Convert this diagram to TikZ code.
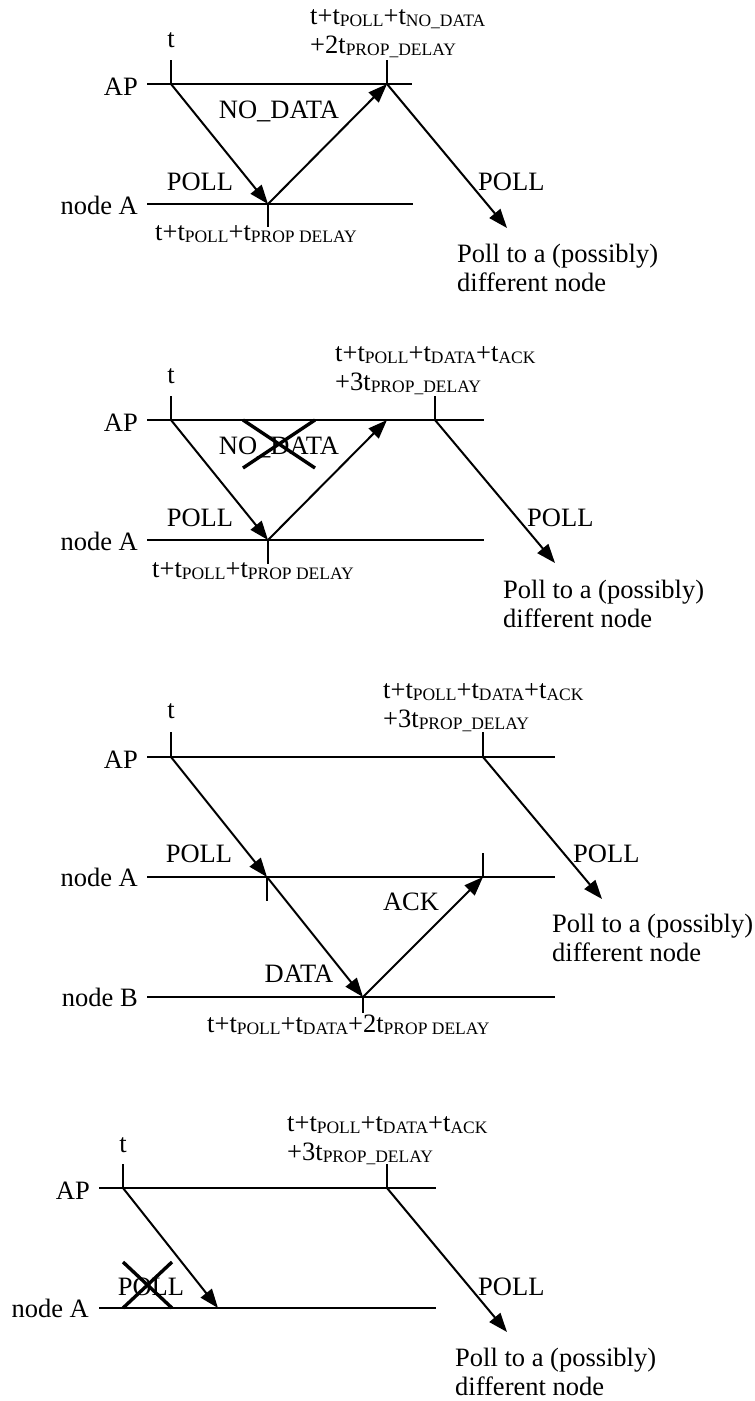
\documentclass[tikz,border=0pt]{standalone}
\usepackage{fontspec}
\setmainfont{Liberation Serif}
\usetikzlibrary{arrows.meta}
\newcommand{\tsub}[1]{\raisebox{-2pt}{\fontsize{17.5}{18}\selectfont #1}}

\begin{document}
\begin{tikzpicture}[
  x=1pt, y=-1pt,
  lane/.style={line width=2pt},
  msg/.style={line width=2pt, -{Triangle[length=19pt,width=14pt]}},
  tick/.style={line width=1.7pt},
  cross/.style={line width=3.4pt},
  lbl/.style={inner sep=0pt, font=\fontsize{26.5}{29}\selectfont},
  who/.style={lbl, anchor=base east},
  tag/.style={lbl, anchor=base},
  stamp/.style={lbl, anchor=base west, align=left}
]
\useasboundingbox (0,0) rectangle (755,1401);

% first case: NO_DATA answer
\coordinate (ap1s) at (147,84);  \coordinate (ap1e) at (412,84);
\coordinate (na1s) at (147,204); \coordinate (na1e) at (413,204);
\coordinate (t1) at (171,84);    \coordinate (t1top) at (171,60);
\coordinate (rx1) at (268,204);  \coordinate (rx1bot) at (268,227);
\coordinate (nd1) at (387,84);   \coordinate (nd1top) at (387,60);
\coordinate (nx1) at (507,228);
\node[who] (ap1) at (138,95) {AP};
\node[who] (na1) at (138,214) {node A};
\node[tag] (tl1) at (171,47) {t};
\node[tag] (poll1) at (200,190) {POLL};
\node[tag] (nodata1) at (279,118) {NO\_DATA};
\node[stamp] (rxl1) at (155,240) {t+t\tsub{POLL}+t\tsub{PROP DELAY}};
\node[stamp] (ndl1) at (310,53) {t+t\tsub{POLL}+t\tsub{NO\_DATA}\\+2t\tsub{PROP\_DELAY}};
\node[lbl, anchor=base west] (pollx1) at (478,190) {POLL};
\node[stamp] (other1) at (457,291) {Poll to a (possibly)\\different node};
\draw[lane] (ap1s) -- (ap1e);
\draw[lane] (na1s) -- (na1e);
\draw[tick] (t1top) -- (t1);
\draw[tick] (rx1) -- (rx1bot);
\draw[tick] (nd1top) -- (nd1);
\draw[msg] (t1) -- (rx1);
\draw[msg] (rx1) -- (nd1);
\draw[msg] (nd1) -- (nx1);

% second case: NO_DATA lost
\coordinate (ap2s) at (147,420); \coordinate (ap2e) at (484,420);
\coordinate (na2s) at (147,540); \coordinate (na2e) at (484,540);
\coordinate (t2) at (171,420);   \coordinate (t2top) at (171,396);
\coordinate (rx2) at (268,540);  \coordinate (rx2bot) at (268,564);
\coordinate (nd2) at (387,420);
\coordinate (to2) at (435,420);  \coordinate (to2top) at (435,396);
\coordinate (nx2) at (555,563);
\coordinate (x2a) at (243,420);  \coordinate (x2b) at (315,468);
\coordinate (x2c) at (243,468);  \coordinate (x2d) at (315,420);
\node[who] (ap2) at (138,431) {AP};
\node[who] (na2) at (138,550) {node A};
\node[tag] (tl2) at (171,383) {t};
\node[tag] (poll2) at (200,526) {POLL};
\node[tag] (nodata2) at (279,454) {NO\_DATA};
\node[stamp] (rxl2) at (152,577) {t+t\tsub{POLL}+t\tsub{PROP DELAY}};
\node[stamp] (tol2) at (335,390) {t+t\tsub{POLL}+t\tsub{DATA}+t\tsub{ACK}\\+3t\tsub{PROP\_DELAY}};
\node[lbl, anchor=base west] (pollx2) at (527,526) {POLL};
\node[stamp] (other2) at (503,627) {Poll to a (possibly)\\different node};
\draw[lane] (ap2s) -- (ap2e);
\draw[lane] (na2s) -- (na2e);
\draw[tick] (t2top) -- (t2);
\draw[tick] (rx2) -- (rx2bot);
\draw[tick] (to2top) -- (to2);
\draw[msg] (t2) -- (rx2);
\draw[msg] (rx2) -- (nd2);
\draw[msg] (to2) -- (nx2);
\draw[cross] (x2a) -- (x2b);
\draw[cross] (x2c) -- (x2d);

% third case: DATA to node B and ACK
\coordinate (ap3s) at (147,757); \coordinate (ap3e) at (555,757);
\coordinate (na3s) at (147,877); \coordinate (na3e) at (555,877);
\coordinate (nb3s) at (147,997); \coordinate (nb3e) at (555,997);
\coordinate (t3) at (171,757);   \coordinate (t3top) at (171,732);
\coordinate (rx3) at (267,877);  \coordinate (rx3bot) at (267,901);
\coordinate (db3) at (363,997);  \coordinate (db3bot) at (363,1013);
\coordinate (ak3) at (483,877);  \coordinate (ak3top) at (483,853);
\coordinate (to3) at (483,757);  \coordinate (to3top) at (483,732);
\coordinate (nx3) at (602,899);
\node[who] (ap3) at (138,768) {AP};
\node[who] (na3) at (138,886) {node A};
\node[who] (nb3) at (138,1006) {node B};
\node[tag] (tl3) at (171,718) {t};
\node[tag] (poll3) at (199,862) {POLL};
\node[tag] (data3) at (299,982) {DATA};
\node[tag] (ack3) at (411,910) {ACK};
\node[stamp] (dbl3) at (207,1032) {t+t\tsub{POLL}+t\tsub{DATA}+2t\tsub{PROP DELAY}};
\node[stamp] (tol3) at (383,727) {t+t\tsub{POLL}+t\tsub{DATA}+t\tsub{ACK}\\+3t\tsub{PROP\_DELAY}};
\node[lbl, anchor=base west] (pollx3) at (573,862) {POLL};
\node[stamp] (other3) at (552,961) {Poll to a (possibly)\\different node};
\draw[lane] (ap3s) -- (ap3e);
\draw[lane] (na3s) -- (na3e);
\draw[lane] (nb3s) -- (nb3e);
\draw[tick] (t3top) -- (t3);
\draw[tick] (rx3) -- (rx3bot);
\draw[tick] (db3) -- (db3bot);
\draw[tick] (ak3top) -- (ak3);
\draw[tick] (to3top) -- (to3);
\draw[msg] (t3) -- (rx3);
\draw[msg] (rx3) -- (db3);
\draw[msg] (db3) -- (ak3);
\draw[msg] (to3) -- (nx3);

% fourth case: POLL lost
\coordinate (ap4s) at (99,1188);  \coordinate (ap4e) at (436,1188);
\coordinate (na4s) at (99,1308);  \coordinate (na4e) at (436,1308);
\coordinate (t4) at (123,1188);   \coordinate (t4top) at (123,1164);
\coordinate (rx4) at (218,1308);
\coordinate (to4) at (387,1188);  \coordinate (to4top) at (387,1164);
\coordinate (nx4) at (507,1332);
\coordinate (x4a) at (123,1262);  \coordinate (x4b) at (172,1308);
\coordinate (x4c) at (123,1308);  \coordinate (x4d) at (172,1262);
\node[who] (ap4) at (90,1199) {AP};
\node[who] (na4) at (89,1317) {node A};
\node[tag] (tl4) at (123,1152) {t};
\node[tag] (poll4) at (151,1295) {POLL};
\node[stamp] (tol4) at (287,1160) {t+t\tsub{POLL}+t\tsub{DATA}+t\tsub{ACK}\\+3t\tsub{PROP\_DELAY}};
\node[lbl, anchor=base west] (pollx4) at (478,1295) {POLL};
\node[stamp] (other4) at (455,1395) {Poll to a (possibly)\\different node};
\draw[lane] (ap4s) -- (ap4e);
\draw[lane] (na4s) -- (na4e);
\draw[tick] (t4top) -- (t4);
\draw[tick] (to4top) -- (to4);
\draw[msg] (t4) -- (rx4);
\draw[msg] (to4) -- (nx4);
\draw[cross] (x4a) -- (x4b);
\draw[cross] (x4c) -- (x4d);
\end{tikzpicture}
\end{document}
